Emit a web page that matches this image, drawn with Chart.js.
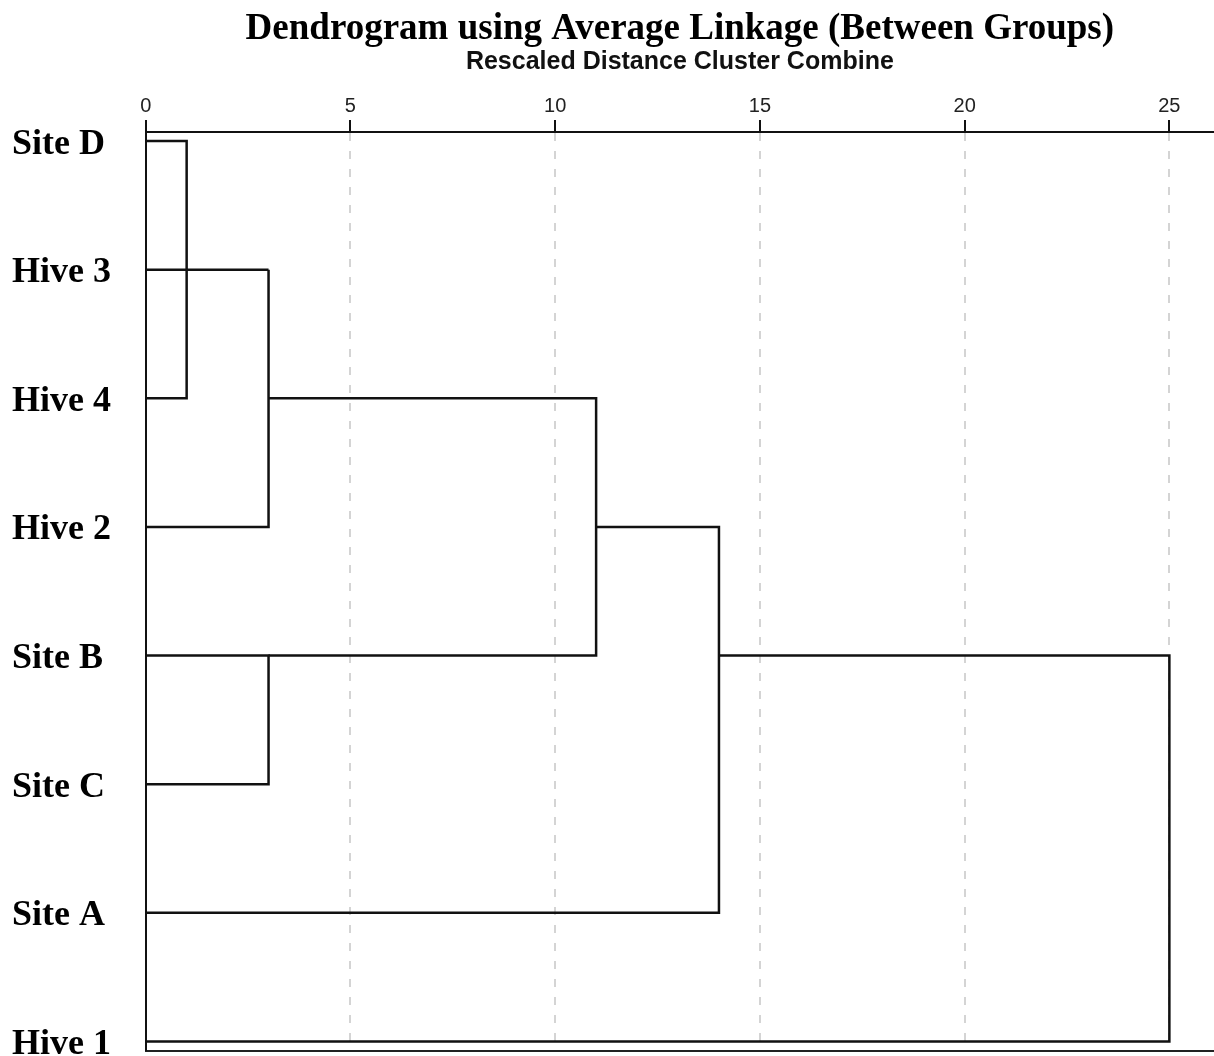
<!DOCTYPE html>
<html><head><meta charset="utf-8">
<script src="https://cdn.jsdelivr.net/npm/chart.js@4.4.0/dist/chart.umd.min.js"></script>
<style>html,body{margin:0;padding:0;background:#fff;overflow:hidden}</style>
</head><body>
<canvas id="c" width="1214" height="1056"></canvas>
<script>
// Leaves in display order (top to bottom)
const leafLabels = ['Site D', 'Hive 3', 'Hive 4', 'Hive 2', 'Site B', 'Site C', 'Site A', 'Hive 1'];
// Agglomeration steps: node ids 0..7 are leaves, 8+ are merge results
const mergeA = [0, 1, 9, 4, 10, 12, 13];
const mergeB = [2, 8, 3, 5, 11, 6, 7];
const mergeDistance = [1, 3, 3, 3, 11, 14, 25];
const distanceTicks = [0, 5, 10, 15, 20, 25];
const titleText = 'Dendrogram using Average Linkage (Between Groups)';
const subtitleText = 'Rescaled Distance Cluster Combine';

const n = leafLabels.length;
const labelNudge = 0.025; // small visual offset of leaf labels below their rows
function rowOf(id) {
  if (id < n) return id;
  const i = id - n;
  return Math.floor((rowOf(mergeA[i]) + rowOf(mergeB[i])) / 2);
}
function startOf(id) { return id < n ? 0 : mergeDistance[id - n]; }

const datasets = mergeDistance.map((d, i) => {
  const a = mergeA[i], b = mergeB[i];
  return {
    data: [
      {x: startOf(a), y: rowOf(a)},
      {x: d, y: rowOf(a)},
      {x: d, y: rowOf(b)},
      {x: startOf(b), y: rowOf(b)}
    ],
    showLine: true, borderColor: '#111', borderWidth: 2.5, pointRadius: 0,
    fill: false, tension: 0, clip: false, borderJoinStyle: 'miter'
  };
});

new Chart(document.getElementById('c').getContext('2d'), {
  type: 'scatter',
  data: {datasets},
  options: {
    responsive: false, animation: false, devicePixelRatio: 1,
    layout: {padding: {left: 12, right: 0, top: 0, bottom: 5.5}},
    plugins: {
      legend: {display: false}, tooltip: {enabled: false},
      title: {display: true, text: titleText, fullSize: false, color: '#000',
        font: {family: '"Liberation Serif", "Times New Roman", serif', size: 37, weight: 'bold', lineHeight: 1.0},
        padding: {top: 11, bottom: 2}},
      subtitle: {display: true, text: subtitleText, fullSize: false, color: '#111',
        font: {family: '"Liberation Sans", Arial, sans-serif', size: 25, weight: 'bold', lineHeight: 1.0},
        padding: {top: 0, bottom: 17.1}}
    },
    scales: {
      x: {
        type: 'linear', position: 'top', min: 0, max: 26.09,
        afterBuildTicks: s => { s.ticks = distanceTicks.map(v => ({value: v})); },
        ticks: {font: {family: '"Liberation Sans", Arial, sans-serif', size: 20}, color: '#222', padding: 2, maxRotation: 0},
        grid: {color: '#d4d4d4', lineWidth: 2, tickColor: '#111', tickWidth: 2, tickLength: 12, tickBorderDash: []},
        border: {display: true, color: '#111', width: 2, dash: [8, 10]}
      },
      x2: {
        type: 'linear', position: 'bottom', min: 0, max: 26.09,
        ticks: {display: false}, grid: {display: false, drawTicks: false},
        border: {display: true, color: '#222', width: 2}
      },
      y: {
        type: 'linear', reverse: true, min: -0.07, max: 7.07,
        afterBuildTicks: s => { s.ticks = leafLabels.map((l, i) => ({value: i + labelNudge})); },
        afterFit: s => { s.width = 133.7; },
        ticks: {crossAlign: 'far', callback: v => leafLabels[Math.round(v)], color: '#000', padding: 0,
          font: {family: '"Liberation Serif", "Times New Roman", serif', size: 36, weight: 'bold', lineHeight: 0.3}},
        grid: {display: false},
        border: {display: true, color: '#111', width: 2}
      }
    }
  }
});
</script>
</body></html>
